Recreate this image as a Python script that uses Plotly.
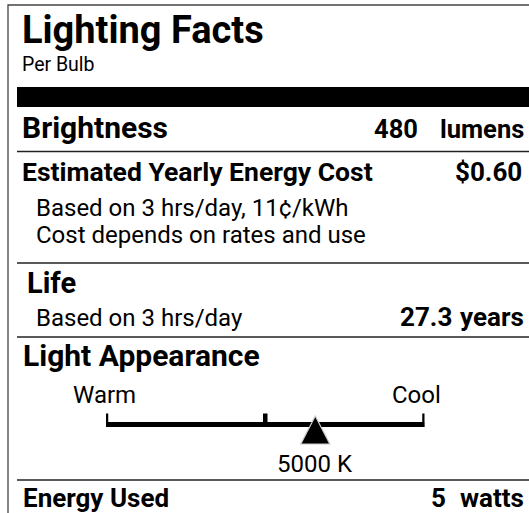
import plotly.graph_objects as go

# ---- data ----
title = "Lighting Facts"
subtitle = "Per Bulb"
brightness_lumens = 480
yearly_cost = 0.60
cost_basis = ["Based on 3 hrs/day, 11\u00a2/kWh", "Cost depends on rates and use"]
life_years = 27.3
life_basis = "Based on 3 hrs/day"
cct_kelvin = 5000
scale_min_k = 2700
scale_max_k = 6200
scale_labels = ["Warm", "Cool"]
energy_watts = 5

W, H = 529, 513
FONT = "Roboto"


def px(x):
    return x / W


def py(y):
    return 1 - y / H


annotations = []


def text(t, x, baseline, size, bold=False, anchor="left", xref="paper"):
    yc = baseline - 0.342 * size
    annotations.append(dict(
        text=t, x=(px(x) if xref == "paper" else x), y=py(yc),
        xref=xref, yref="paper", xanchor=anchor, yanchor="middle",
        showarrow=False, borderpad=0, borderwidth=0,
        font=dict(family=FONT, size=size, color="black",
                  weight=700 if bold else 400),
    ))


text(title, 21.5, 43, 38, True)
text(subtitle, 22, 71, 19.5)
text("Brightness", 21.5, 138, 30, True)
text(f"{brightness_lumens}", 418, 138, 25.5, True, "right")
text("lumens", 524, 138, 25.5, True, "right")
text("Estimated Yearly Energy Cost", 22, 181, 26.5, True)
text(f"${yearly_cost:.2f}", 522, 181, 26, True, "right")
text(cost_basis[0], 35.5, 216, 24)
text(cost_basis[1], 35.5, 243, 24)
text("Life", 27, 293, 29, True)
text(life_basis, 35.5, 326, 24)
text(f"{life_years}", 452, 326, 26, True, "right")
text("years", 524, 326, 26, True, "right")
text("Light Appearance", 22.5, 366, 30, True)
text(scale_labels[0], 104.5, 403, 24, anchor="center")
text(scale_labels[1], 416.5, 403, 24, anchor="center")
text(f"{cct_kelvin} K", cct_kelvin, 472, 24, anchor="center", xref="x")
text("Energy Used", 22.5, 507, 26, True)
text(f"{energy_watts}", 446, 507, 26, True, "right")
text("watts", 524, 507, 26, True, "right")

shapes = []
# outer border
shapes.append(dict(type="rect", xref="paper", yref="paper",
                   x0=px(8), x1=px(600), y0=py(5), y1=py(600),
                   line=dict(color="#444", width=1.3), fillcolor="rgba(0,0,0,0)"))
# thick black bar
shapes.append(dict(type="rect", xref="paper", yref="paper",
                   x0=px(17), x1=px(600), y0=py(107), y1=py(87),
                   line=dict(width=0), fillcolor="black"))
# dividers
for yy in [151.5, 263, 337, 480]:
    shapes.append(dict(type="line", xref="paper", yref="paper",
                       x0=px(17), x1=px(600), y0=py(yy), y1=py(yy),
                       line=dict(color="#222", width=1.5)))
# scale bar
shapes.append(dict(type="line", xref="x", yref="y",
                   x0=scale_min_k, x1=scale_max_k, y0=424.5, y1=424.5,
                   line=dict(color="black", width=5)))
for t in [scale_min_k, (scale_min_k + scale_max_k) / 2, scale_max_k]:
    shapes.append(dict(type="line", xref="x", yref="y",
                       x0=t, x1=t, y0=413.5, y1=427,
                       line=dict(color="black", width=4.5)))
# marker triangle
shapes.append(dict(type="path", xref="x", yref="y",
                   xsizemode="pixel", ysizemode="pixel",
                   xanchor=cct_kelvin, yanchor=430,
                   path="M -14.5,-14 L 14.5,-14 L 0,14 Z",
                   fillcolor="black", line=dict(color="#c8c8c8", width=1.2)))

fig = go.Figure(go.Scatter(x=[cct_kelvin], y=[430], mode="markers",
                           marker=dict(opacity=0), hoverinfo="skip",
                           showlegend=False))
fig.update_layout(
    width=W, height=H, margin=dict(l=0, r=0, t=0, b=0),
    paper_bgcolor="white", plot_bgcolor="rgba(0,0,0,0)",
    xaxis=dict(domain=[106 / W, 424.5 / W], range=[scale_min_k, scale_max_k],
               visible=False, fixedrange=True),
    yaxis=dict(domain=[0, 1], range=[H, 0], visible=False, fixedrange=True),
    shapes=shapes, annotations=annotations, showlegend=False,
)
fig.write_html("out.html", config={"displayModeBar": False},
               post_script="document.body.style.margin='0';document.body.style.overflow='hidden';")
